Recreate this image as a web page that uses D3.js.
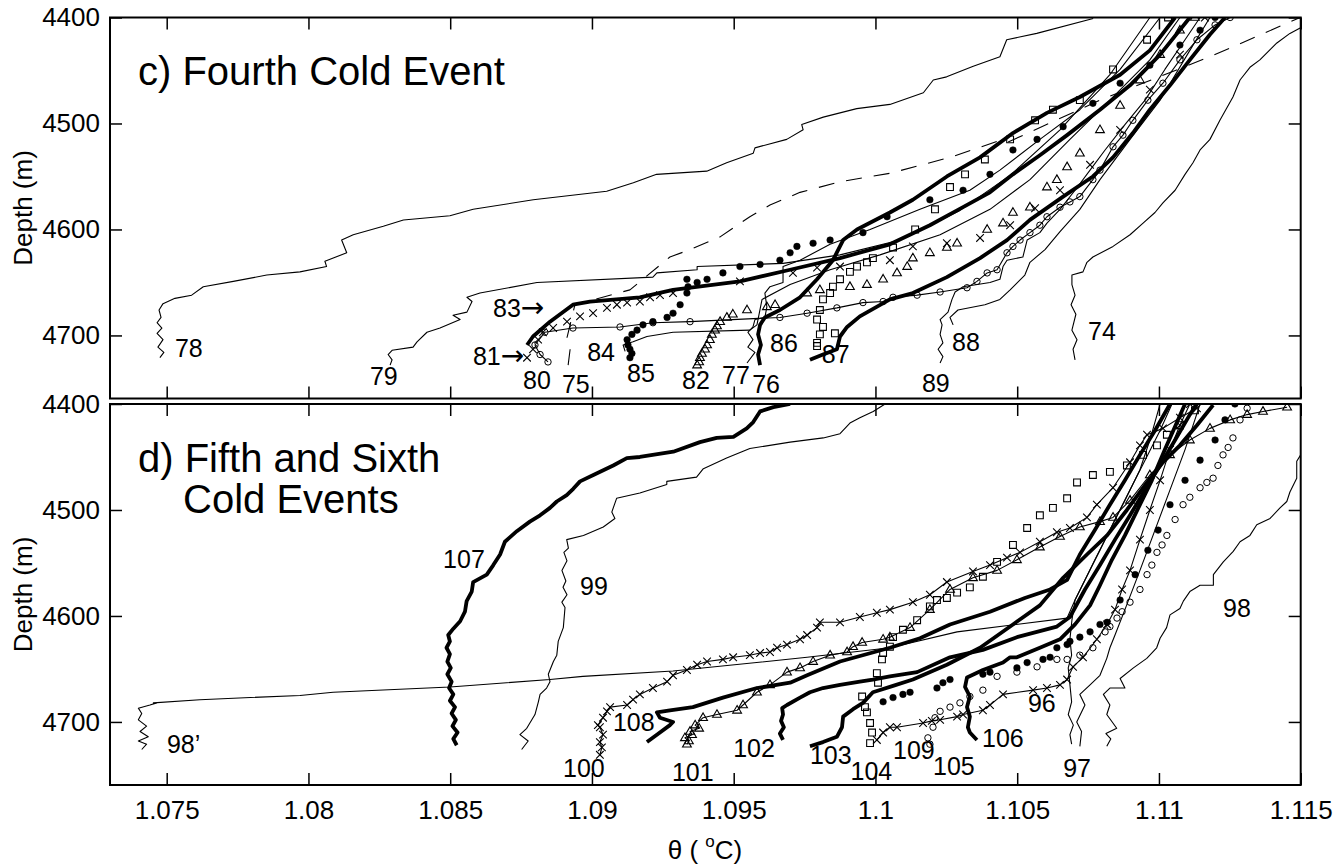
<!DOCTYPE html>
<html>
<head>
<meta charset="utf-8">
<script src="https://cdnjs.cloudflare.com/ajax/libs/d3/7.8.5/d3.min.js"></script>
<style>
  body { margin: 0; background: #fff; }
  text { font-family: "Liberation Sans", Arial, Helvetica, sans-serif; fill: #000; }
</style>
</head>
<body>
<svg id="chart" width="1339" height="866"></svg>
<script>
// tick labels
const thetaTicks = [1.075, 1.08, 1.085, 1.09, 1.095, 1.1, 1.105, 1.11, 1.115];
const depthTicks = [4400, 4500, 4600, 4700];

// ---- panel c) profiles, [theta, depth] ----
const c78 = [[1.07476,4721],[1.07490,4716],[1.07469,4711],[1.07487,4704],[1.07466,4698],[1.07483,4693],[1.07466,4688],[1.07480,4683],[1.07473,4676],[1.07487,4670],[1.07529,4665],[1.07588,4662],[1.07629,4654],[1.07735,4649],[1.07853,4643],[1.07970,4640],[1.08064,4635],[1.08058,4630],[1.08135,4622],[1.08117,4610],[1.08158,4605],[1.08264,4597],[1.08335,4591],[1.08499,4587],[1.08581,4581],[1.08793,4572],[1.09052,4564],[1.09146,4556],[1.09228,4548],[1.09405,4545],[1.09475,4537],[1.09569,4528],[1.09575,4523],[1.09687,4515],[1.09745,4506],[1.09740,4501],[1.09816,4494],[1.09934,4486],[1.10051,4482],[1.10169,4471],[1.10204,4459],[1.10251,4456],[1.10345,4446],[1.10439,4437],[1.10463,4421],[1.10569,4415],[1.10768,4401]];
const c79 = [[1.08288,4728],[1.08295,4723],[1.08281,4718],[1.08295,4714],[1.08369,4711],[1.08383,4706],[1.08418,4697],[1.08464,4693],[1.08535,4685],[1.08510,4681],[1.08559,4678],[1.08577,4668],[1.08559,4664],[1.08605,4660],[1.08806,4650],[1.09215,4645],[1.09229,4641],[1.09371,4638],[1.09371,4635],[1.09674,4632],[1.09875,4624],[1.10087,4610],[1.10298,4582],[1.10475,4549],[1.10651,4506],[1.10827,4454],[1.10968,4400]];
const c75 = [[1.08916,4728],[1.08923,4713],[1.08912,4702],[1.08940,4671],[1.09134,4657],[1.09275,4626],[1.09346,4619],[1.09452,4607],[1.09557,4588],[1.09628,4577],[1.09734,4565],[1.09875,4555],[1.10051,4547],[1.10263,4532],[1.10439,4516],[1.10464,4518],[1.10792,4478],[1.11180,4437],[1.11498,4400]];
const c80 = [[1.08845,4725],[1.08817,4718],[1.08799,4709],[1.08834,4697],[1.08933,4693],[1.09099,4692],[1.09215,4688],[1.09346,4687],[1.09663,4683],[1.09759,4679],[1.09864,4674],[1.09956,4669],[1.10027,4668],[1.10062,4664],[1.10147,4662],[1.10228,4659],[1.10323,4655],[1.10358,4649],[1.10394,4641],[1.10429,4638],[1.10464,4622],[1.10485,4616],[1.10510,4610],[1.10545,4603],[1.10580,4596],[1.10605,4588],[1.10651,4579],[1.10686,4574],[1.10721,4569],[1.10767,4553],[1.10792,4544],[1.10838,4522],[1.10873,4511],[1.10908,4497],[1.10961,4478],[1.11014,4462],[1.11074,4440],[1.11134,4421],[1.11198,4407],[1.11251,4400]];
const c81 = [[1.08771,4721],[1.08792,4713],[1.08810,4704],[1.08827,4697],[1.08863,4693],[1.08912,4687],[1.08958,4682],[1.09004,4679],[1.09053,4674],[1.09088,4671],[1.09124,4669],[1.09169,4668],[1.09205,4664],[1.09240,4662],[1.09286,4660],[1.09522,4649],[1.09709,4641],[1.09794,4636],[1.09875,4635],[1.10051,4629],[1.10132,4616],[1.10252,4613],[1.10369,4608],[1.10475,4596],[1.10563,4580],[1.10651,4563],[1.10757,4539],[1.10863,4506],[1.10968,4468],[1.11074,4435],[1.11162,4400]];
const c83 = [[1.08771,4709],[1.08792,4701],[1.08852,4687],[1.08933,4671],[1.08993,4668],[1.09169,4664],[1.09286,4657],[1.09522,4649],[1.09699,4638],[1.09875,4627],[1.10051,4614],[1.10192,4596],[1.10309,4579],[1.10404,4565],[1.10485,4548],[1.10580,4530],[1.10676,4511],[1.10792,4487],[1.10898,4464],[1.11004,4435],[1.11109,4400]];
const c84 = [[1.09117,4715],[1.09110,4709],[1.09145,4706],[1.09194,4701],[1.09286,4697],[1.09557,4695],[1.09582,4690],[1.09600,4666],[1.09699,4652],[1.09840,4638],[1.10016,4624],[1.10228,4605],[1.10404,4581],[1.10545,4553],[1.10686,4515],[1.10827,4478],[1.10968,4440],[1.11074,4400]];
const c85 = [[1.09134,4721],[1.09141,4717],[1.09134,4713],[1.09127,4709],[1.09124,4704],[1.09141,4699],[1.09159,4695],[1.09180,4690],[1.09215,4687],[1.09265,4683],[1.09286,4679],[1.09311,4671],[1.09335,4660],[1.09339,4654],[1.09335,4647],[1.09371,4650],[1.09406,4647],[1.09462,4641],[1.09522,4635],[1.09593,4633],[1.09663,4629],[1.09699,4622],[1.09723,4616],[1.09780,4613],[1.09840,4610],[1.09956,4603],[1.10041,4588],[1.10192,4572],[1.10309,4563],[1.10404,4548],[1.10485,4525],[1.10570,4515],[1.10662,4503],[1.10767,4481],[1.10863,4462],[1.10968,4445],[1.11074,4426],[1.11145,4412],[1.11198,4400]];
const c82 = [[1.09371,4728],[1.09378,4725],[1.09381,4721],[1.09388,4717],[1.09399,4713],[1.09406,4709],[1.09416,4704],[1.09423,4699],[1.09434,4695],[1.09441,4691],[1.09452,4687],[1.09476,4683],[1.09497,4680],[1.09547,4676],[1.09617,4673],[1.09646,4671],[1.09759,4660],[1.09804,4657],[1.09910,4654],[1.09970,4652],[1.10027,4647],[1.10076,4641],[1.10112,4635],[1.10132,4627],[1.10192,4622],[1.10252,4617],[1.10288,4613],[1.10394,4600],[1.10450,4594],[1.10485,4584],[1.10545,4579],[1.10605,4560],[1.10640,4553],[1.10676,4541],[1.10721,4528],[1.10792,4506],[1.10863,4483],[1.10933,4459],[1.11004,4435],[1.11074,4412],[1.11127,4400]];
const c77 = [[1.09547,4726],[1.09575,4716],[1.09550,4711],[1.09568,4704],[1.09550,4697],[1.09568,4692],[1.09575,4685],[1.09610,4683],[1.09617,4673],[1.09610,4660],[1.09628,4654],[1.09674,4650],[1.09674,4635],[1.09734,4629],[1.09840,4614],[1.09981,4600],[1.10157,4581],[1.10333,4563],[1.10439,4544],[1.10580,4515],[1.10721,4487],[1.10863,4449],[1.11004,4400]];
const c76 = [[1.09593,4728],[1.09586,4718],[1.09596,4709],[1.09586,4699],[1.09593,4690],[1.09610,4683],[1.09663,4676],[1.09734,4664],[1.09794,4647],[1.09850,4629],[1.09886,4610],[1.09935,4600],[1.10051,4584],[1.10132,4572],[1.10252,4550],[1.10369,4532],[1.10485,4509],[1.10605,4490],[1.10721,4475],[1.10863,4454],[1.10968,4431],[1.11057,4400]];
const c86 = [[1.09794,4710],[1.09857,4698],[1.09794,4707],[1.09804,4699],[1.09815,4692],[1.09794,4685],[1.09804,4676],[1.09815,4666],[1.09840,4660],[1.09850,4654],[1.09875,4647],[1.09910,4640],[1.09935,4635],[1.09970,4631],[1.09991,4627],[1.10062,4617],[1.10140,4600],[1.10210,4581],[1.10263,4560],[1.10316,4548],[1.10386,4534],[1.10475,4515],[1.10563,4497],[1.10626,4487],[1.10721,4478],[1.10838,4449],[1.10958,4421],[1.11032,4400]];
const c87 = [[1.09769,4723],[1.09815,4718],[1.09864,4713],[1.09875,4701],[1.09900,4692],[1.09945,4682],[1.10051,4666],[1.10132,4660],[1.10252,4645],[1.10369,4627],[1.10464,4610],[1.10545,4591],[1.10662,4569],[1.10767,4550],[1.10838,4532],[1.10908,4509],[1.10968,4487],[1.11039,4464],[1.11109,4440],[1.11180,4416],[1.11233,4400]];
const c89 = [[1.10228,4726],[1.10238,4720],[1.10221,4713],[1.10238,4707],[1.10228,4699],[1.10235,4690],[1.10228,4685],[1.10256,4678],[1.10270,4666],[1.10281,4659],[1.10309,4654],[1.10404,4650],[1.10439,4647],[1.10450,4635],[1.10464,4629],[1.10520,4626],[1.10535,4610],[1.10580,4603],[1.10605,4594],[1.10651,4581],[1.10704,4563],[1.10757,4544],[1.10810,4525],[1.10880,4501],[1.10951,4478],[1.11021,4449],[1.11092,4421],[1.11145,4400]];
const c88 = [[1.10274,4690],[1.10263,4683],[1.10291,4676],[1.10386,4671],[1.10439,4666],[1.10475,4657],[1.10527,4643],[1.10545,4631],[1.10598,4619],[1.10651,4602],[1.10721,4581],[1.10792,4553],[1.10898,4515],[1.11004,4478],[1.11109,4431],[1.11180,4400]];
const c74 = [[1.10704,4723],[1.10697,4713],[1.10711,4704],[1.10693,4695],[1.10707,4680],[1.10690,4671],[1.10704,4662],[1.10693,4652],[1.10693,4643],[1.10732,4640],[1.10746,4631],[1.10767,4626],[1.10838,4616],[1.10898,4605],[1.10944,4594],[1.10986,4584],[1.11014,4575],[1.11057,4563],[1.11092,4548],[1.11120,4537],[1.11145,4525],[1.11180,4515],[1.11215,4497],[1.11261,4475],[1.11286,4459],[1.11321,4447],[1.11356,4440],[1.11416,4424],[1.11462,4415],[1.11498,4410]];

// ---- panel d) profiles ----
const d107 = [[1.08523,4722],[1.08511,4716],[1.08526,4710],[1.08508,4704],[1.08520,4698],[1.08505,4692],[1.08517,4686],[1.08499,4680],[1.08511,4674],[1.08496,4668],[1.08505,4662],[1.08490,4655],[1.08502,4649],[1.08490,4643],[1.08499,4636],[1.08487,4630],[1.08499,4624],[1.08493,4618],[1.08511,4612],[1.08535,4605],[1.08552,4596],[1.08558,4586],[1.08576,4577],[1.08581,4568],[1.08629,4561],[1.08652,4552],[1.08676,4542],[1.08693,4530],[1.08735,4520],[1.08781,4511],[1.08817,4505],[1.08852,4498],[1.08876,4492],[1.08911,4486],[1.08934,4480],[1.08958,4473],[1.09005,4467],[1.09075,4458],[1.09123,4451],[1.09169,4450],[1.09287,4445],[1.09381,4436],[1.09440,4432],[1.09499,4431],[1.09546,4423],[1.09569,4417],[1.09593,4407],[1.09640,4403],[1.09699,4400]];
const d99 = [[1.08752,4726],[1.08775,4718],[1.08746,4712],[1.08770,4706],[1.08799,4693],[1.08811,4681],[1.08817,4674],[1.08840,4668],[1.08852,4662],[1.08846,4655],[1.08864,4643],[1.08876,4637],[1.08881,4624],[1.08899,4611],[1.08905,4592],[1.08894,4587],[1.08912,4580],[1.08898,4573],[1.08908,4567],[1.08894,4557],[1.08912,4548],[1.08901,4540],[1.08917,4536],[1.08911,4528],[1.08970,4524],[1.09040,4516],[1.09081,4508],[1.09070,4502],[1.09087,4489],[1.09169,4484],[1.09264,4476],[1.09264,4473],[1.09369,4469],[1.09393,4461],[1.09475,4451],[1.09557,4442],[1.09699,4436],[1.09816,4432],[1.09875,4428],[1.09910,4418],[1.09945,4413],[1.09992,4407],[1.10034,4400]];
const d98p = [[1.07412,4726],[1.07429,4721],[1.07400,4718],[1.07435,4714],[1.07406,4709],[1.07429,4704],[1.07400,4698],[1.07412,4692],[1.07400,4687],[1.07441,4684],[1.07465,4682],[1.07453,4682],[1.07617,4679],[1.07970,4675],[1.08087,4672],[1.08499,4667],[1.08852,4660],[1.08968,4657],[1.09286,4652],[1.09759,4639],[1.10051,4630],[1.10288,4615],[1.10676,4602],[1.10704,4585],[1.10739,4566],[1.10792,4538],[1.10845,4509],[1.10898,4481],[1.10951,4453],[1.11004,4425],[1.11046,4400]];
const d98 = [[1.10816,4723],[1.10830,4716],[1.10813,4711],[1.10851,4706],[1.10816,4693],[1.10827,4684],[1.10804,4674],[1.10827,4668],[1.10880,4668],[1.10863,4659],[1.10910,4649],[1.10957,4640],[1.10992,4630],[1.11004,4621],[1.11027,4611],[1.11039,4599],[1.11074,4593],[1.11086,4586],[1.11109,4577],[1.11145,4571],[1.11192,4571],[1.11192,4561],[1.11227,4549],[1.11262,4539],[1.11286,4530],[1.11321,4524],[1.11345,4514],[1.11392,4508],[1.11427,4498],[1.11451,4492],[1.11462,4483],[1.11486,4470],[1.11486,4454],[1.11500,4448]];
const d97 = [[1.10692,4721],[1.10686,4712],[1.10698,4703],[1.10680,4693],[1.10692,4681],[1.10686,4665],[1.10680,4649],[1.10692,4637],[1.10686,4622],[1.10693,4604],[1.10704,4585],[1.10739,4566],[1.10774,4547],[1.10827,4519],[1.10880,4491],[1.10933,4462],[1.10968,4434],[1.11004,4400]];
const d97b = [[1.10721,4723],[1.10727,4709],[1.10710,4700],[1.10739,4684],[1.10721,4674],[1.10757,4665],[1.10792,4656],[1.10816,4640],[1.10827,4630],[1.10845,4618],[1.10880,4594],[1.10933,4557],[1.10986,4519],[1.11039,4481],[1.11092,4443],[1.11145,4400]];
const d109 = [[1.10005,4717],[1.10027,4710],[1.10051,4705],[1.10076,4705],[1.10168,4701],[1.10199,4699],[1.10228,4698],[1.10288,4695],[1.10309,4693],[1.10379,4689],[1.10404,4684],[1.10450,4674],[1.10556,4670],[1.10605,4668],[1.10651,4665],[1.10676,4660],[1.10697,4648],[1.10732,4639],[1.10781,4622],[1.10817,4608],[1.10845,4594],[1.10870,4575],[1.10898,4557],[1.10933,4528],[1.10968,4500],[1.11004,4472],[1.11039,4443],[1.11074,4420],[1.11109,4400]];
const d105 = [[1.10192,4721],[1.10185,4715],[1.10203,4705],[1.10210,4696],[1.10228,4690],[1.10263,4686],[1.10298,4682],[1.10333,4676],[1.10379,4670],[1.10429,4657],[1.10499,4653],[1.10570,4648],[1.10640,4641],[1.10676,4641],[1.10721,4637],[1.10767,4630],[1.10810,4615],[1.10827,4610],[1.10852,4602],[1.10870,4596],[1.10898,4587],[1.10933,4575],[1.10958,4561],[1.10975,4552],[1.10993,4540],[1.11011,4533],[1.11028,4524],[1.11057,4509],[1.11085,4495],[1.11109,4488],[1.11145,4479],[1.11169,4474],[1.11191,4470],[1.11208,4458],[1.11226,4448],[1.11244,4441],[1.11261,4432],[1.11286,4415],[1.11311,4404]];
const d106 = [[1.10358,4717],[1.10333,4710],[1.10326,4705],[1.10333,4695],[1.10323,4686],[1.10333,4676],[1.10316,4667],[1.10323,4658],[1.10379,4651],[1.10450,4644],[1.10475,4639],[1.10499,4639],[1.10580,4630],[1.10651,4622],[1.10704,4608],[1.10757,4590],[1.10792,4571],[1.10834,4547],[1.10880,4524],[1.10933,4495],[1.10975,4472],[1.11021,4443],[1.11067,4415],[1.11092,4400]];
const d104 = [[1.09981,4720],[1.09988,4710],[1.09981,4701],[1.09970,4691],[1.09963,4686],[1.09953,4676],[1.10009,4663],[1.10005,4654],[1.10023,4641],[1.10027,4635],[1.10051,4629],[1.10062,4620],[1.10097,4613],[1.10147,4604],[1.10192,4591],[1.10217,4585],[1.10252,4583],[1.10288,4578],[1.10333,4573],[1.10379,4563],[1.10429,4549],[1.10485,4533],[1.10535,4517],[1.10580,4505],[1.10626,4498],[1.10676,4489],[1.10711,4474],[1.10767,4467],[1.10827,4464],[1.10887,4458],[1.10944,4448],[1.10993,4439],[1.11028,4429],[1.11074,4420],[1.11127,4406]];
const d103 = [[1.09769,4723],[1.09815,4719],[1.09864,4714],[1.09882,4705],[1.09886,4695],[1.09921,4688],[1.09956,4682],[1.09991,4672],[1.10062,4666],[1.10132,4660],[1.10252,4646],[1.10369,4630],[1.10485,4608],[1.10580,4590],[1.10662,4564],[1.10746,4542],[1.10817,4524],[1.10887,4500],[1.10958,4474],[1.11014,4455],[1.11074,4439],[1.11134,4420],[1.11191,4401]];
const d102 = [[1.09674,4717],[1.09663,4711],[1.09677,4705],[1.09667,4699],[1.09674,4693],[1.09671,4687],[1.09688,4684],[1.09734,4677],[1.09769,4672],[1.09815,4668],[1.09875,4665],[1.09945,4662],[1.09991,4660],[1.10051,4657],[1.10147,4653],[1.10263,4639],[1.10379,4632],[1.10499,4620],[1.10640,4610],[1.10686,4601],[1.10739,4575],[1.10792,4552],[1.10845,4528],[1.10898,4505],[1.10951,4481],[1.11004,4458],[1.11057,4434],[1.11109,4410],[1.11134,4400]];
const d108 = [[1.09194,4719],[1.09229,4712],[1.09275,4703],[1.09286,4700],[1.09240,4696],[1.09229,4691],[1.09275,4689],[1.09356,4686],[1.09462,4677],[1.09582,4668],[1.09699,4663],[1.09759,4656],[1.09875,4643],[1.10051,4630],[1.10157,4621],[1.10263,4608],[1.10404,4596],[1.10527,4583],[1.10616,4575],[1.10676,4566],[1.10721,4542],[1.10774,4519],[1.10827,4495],[1.10880,4472],[1.10933,4448],[1.10986,4425],[1.11039,4400]];
const d101 = [[1.09335,4721],[1.09342,4718],[1.09328,4715],[1.09353,4712],[1.09346,4709],[1.09378,4706],[1.09364,4703],[1.09392,4696],[1.09441,4693],[1.09512,4689],[1.09533,4684],[1.09582,4672],[1.09628,4665],[1.09688,4653],[1.09734,4649],[1.09780,4643],[1.09840,4637],[1.09900,4634],[1.09921,4629],[1.09953,4625],[1.10027,4622],[1.10051,4620],[1.10122,4611],[1.10192,4594],[1.10263,4575],[1.10344,4564],[1.10429,4557],[1.10499,4547],[1.10580,4535],[1.10651,4525],[1.10721,4516],[1.10792,4511],[1.10838,4507],[1.10898,4491],[1.10968,4467],[1.11039,4448],[1.11109,4434],[1.11180,4423],[1.11251,4415],[1.11311,4410],[1.11367,4407],[1.11452,4403]];
const d100 = [[1.09028,4731],[1.09035,4724],[1.09028,4719],[1.09039,4712],[1.09028,4705],[1.09021,4703],[1.09039,4696],[1.09053,4690],[1.09064,4686],[1.09124,4684],[1.09145,4679],[1.09169,4674],[1.09215,4668],[1.09265,4662],[1.09286,4656],[1.09335,4651],[1.09371,4646],[1.09406,4643],[1.09462,4641],[1.09498,4639],[1.09557,4637],[1.09593,4635],[1.09628,4634],[1.09653,4630],[1.09688,4627],[1.09734,4622],[1.09759,4618],[1.09794,4611],[1.09804,4606],[1.09875,4606],[1.09945,4601],[1.10005,4597],[1.10051,4594],[1.10132,4587],[1.10192,4580],[1.10252,4568],[1.10344,4558],[1.10404,4552],[1.10464,4545],[1.10510,4540],[1.10580,4530],[1.10640,4521],[1.10686,4517],[1.10746,4507],[1.10781,4495],[1.10838,4479],[1.10898,4455],[1.10933,4439],[1.10958,4429],[1.11014,4423],[1.11074,4413],[1.11134,4404]];
const d96 = [[1.10027,4681],[1.10062,4677],[1.10097,4674],[1.10122,4672],[1.10217,4668],[1.10238,4663],[1.10263,4660],[1.10379,4655],[1.10404,4653],[1.10499,4649],[1.10535,4644],[1.10591,4641],[1.10616,4639],[1.10640,4630],[1.10676,4627],[1.10686,4624],[1.10721,4620],[1.10757,4615],[1.10792,4608],[1.10817,4606],[1.10863,4585],[1.10916,4561],[1.10961,4538],[1.10997,4519],[1.11039,4495],[1.11092,4472],[1.11145,4453],[1.11198,4434],[1.11233,4415],[1.11268,4400]];

// profile numbers: [text, theta, depth]
const cLabels = [["78",1.07529,4720],["79",1.08217,4747],["83\u2192",1.08651,4683],["81\u2192",1.08580,4728],["80",1.08757,4751],["75",1.08894,4754],["84",1.08983,4724],["85",1.09124,4744],["82",1.09318,4751],["77",1.09459,4746],["76",1.09565,4754],["86",1.09628,4716],["87",1.09811,4726],["88",1.10270,4715],["89",1.10164,4753],["74",1.10750,4704]];
const dLabels = [["98\u2019",1.07501,4729],["107",1.08475,4555],["99",1.08958,4580],["108",1.09074,4709],["100",1.08898,4752],["101",1.09282,4756],["102",1.09498,4733],["103",1.09769,4740],["104",1.09912,4755],["109",1.10062,4735],["105",1.10203,4750],["106",1.10376,4724],["96",1.10538,4691],["97",1.10662,4752],["98",1.11226,4601]];

const svg = d3.select("#chart");
const x = d3.scaleLinear().domain([1.073, 1.115]).range([110, 1300.7]);
const left = 110, right = 1300.7;

const panels = [
  { id: "c", top: 17.5, bottom: 398.5, labels: cLabels, xLabels: false,
    title: [["c) Fourth Cold Event", 138, 85]],
    series: [
      {pts: c78, kind: "thin"}, {pts: c79, kind: "thin"}, {pts: c84, kind: "thin"},
      {pts: c77, kind: "thin"}, {pts: c89, kind: "thin"}, {pts: c88, kind: "thin"},
      {pts: c74, kind: "thin"}, {pts: c75, kind: "dashed"},
      {pts: c80, kind: "circleLine"}, {pts: c81, kind: "x"}, {pts: c82, kind: "tri"},
      {pts: c86, kind: "square"}, {pts: c85, kind: "dot"},
      {pts: c83, kind: "thick"}, {pts: c76, kind: "thick"}, {pts: c87, kind: "thick"}
    ] },
  { id: "d", top: 404, bottom: 785, labels: dLabels, xLabels: true,
    title: [["d) Fifth and Sixth", 138, 472], ["Cold Events", 183, 513]],
    series: [
      {pts: d98p, kind: "thin"}, {pts: d99, kind: "thin"}, {pts: d98, kind: "thin"},
      {pts: d97, kind: "thin"}, {pts: d97b, kind: "thin"},
      {pts: d100, kind: "xLine"}, {pts: d109, kind: "xLine"}, {pts: d101, kind: "triLine"},
      {pts: d105, kind: "circle"}, {pts: d104, kind: "square"}, {pts: d96, kind: "dot"},
      {pts: d107, kind: "thick"}, {pts: d106, kind: "thick"}, {pts: d103, kind: "thick"},
      {pts: d102, kind: "thick"}, {pts: d108, kind: "thick"}
    ] }
];

const shapes = {
  x: "M-3.8,-3.8L3.8,3.8M-3.8,3.8L3.8,-3.8",
  tri: "M0,-4.8L4.4,2.8L-4.4,2.8Z",
  square: "M-3.4,-3.4H3.4V3.4H-3.4Z"
};

function drawPanel(p) {
  const y = d3.scaleLinear().domain([4400, 4759.5]).range([p.top, p.bottom]);
  const g = svg.append("g");

  svg.append("clipPath").attr("id", "clip-" + p.id)
    .append("rect").attr("x", left).attr("y", p.top)
    .attr("width", right - left).attr("height", p.bottom - p.top);

  const plot = g.append("g").attr("clip-path", `url(#clip-${p.id})`);
  const line = d3.line().x(d => x(d[0])).y(d => y(d[1]));

  const order = ["thin", "dashed", "circleLine", "xLine", "triLine", "x", "tri", "square", "circle", "dot", "thick"];
  order.forEach(kind => {
    p.series.filter(s => s.kind === kind).forEach(s => {
      if (["thin", "dashed", "circleLine", "xLine", "triLine", "thick"].includes(kind)) {
        plot.append("path").attr("d", line(s.pts))
          .attr("fill", "none").attr("stroke", "#000")
          .attr("stroke-width", kind === "thick" ? 3.8 : 1.1)
          .attr("stroke-linejoin", "round")
          .attr("stroke-dasharray", kind === "dashed" ? "16,12" : null);
      }
      const mk = kind === "circleLine" ? "circle" : kind === "xLine" ? "x" : kind === "triLine" ? "tri" : kind;
      if (mk === "circle" || mk === "dot") {
        plot.selectAll(null).data(s.pts).enter().append("circle")
          .attr("cx", d => x(d[0])).attr("cy", d => y(d[1]))
          .attr("r", mk === "dot" ? 3.3 : 3.2)
          .attr("fill", mk === "dot" ? "#000" : "none")
          .attr("stroke", "#000").attr("stroke-width", mk === "dot" ? 0.5 : 1);
      } else if (shapes[mk]) {
        plot.selectAll(null).data(s.pts).enter().append("path")
          .attr("d", shapes[mk])
          .attr("transform", d => `translate(${x(d[0])},${y(d[1])})`)
          .attr("fill", "none").attr("stroke", "#000").attr("stroke-width", 1.1);
      }
    });
  });

  // axes: inward ticks on all four sides
  const styleAxis = sel => {
    sel.select(".domain").remove();
    sel.selectAll(".tick line").attr("stroke", "#000").attr("stroke-width", 1.5);
    sel.selectAll(".tick text").attr("font-size", 26).attr("fill", "#000")
      .attr("font-family", "Liberation Sans, Arial, sans-serif");
  };
  g.append("g").attr("transform", `translate(${left},0)`)
    .call(d3.axisLeft(y).tickValues(depthTicks).tickSize(-12).tickPadding(10).tickFormat(d3.format("d")))
    .call(styleAxis);
  g.append("g").attr("transform", `translate(${right},0)`)
    .call(d3.axisRight(y).tickValues(depthTicks).tickSize(-12).tickFormat(""))
    .call(styleAxis);
  g.append("g").attr("transform", `translate(0,${p.top})`)
    .call(d3.axisTop(x).tickValues(thetaTicks).tickSize(-12).tickFormat(""))
    .call(styleAxis);
  g.append("g").attr("transform", `translate(0,${p.bottom})`)
    .call(d3.axisBottom(x).tickValues(thetaTicks).tickSize(-12).tickPadding(15.5)
      .tickFormat(p.xLabels ? (d => String(+d.toFixed(3))) : ""))
    .call(styleAxis);

  g.append("rect").attr("x", left).attr("y", p.top)
    .attr("width", right - left).attr("height", p.bottom - p.top)
    .attr("fill", "none").attr("stroke", "#000").attr("stroke-width", 2);

  // profile numbers (arrow glyph taken from DejaVu for its full length)
  g.selectAll(null).data(p.labels).enter().append("text")
    .attr("x", d => x(d[1])).attr("y", d => y(d[2]))
    .attr("font-size", 25)
    .each(function (d) {
      const parts = d[0].split("\u2192");
      const t = d3.select(this);
      t.append("tspan").text(parts[0]);
      if (parts.length > 1) {
        t.append("tspan").attr("font-family", "DejaVu Sans").attr("font-size", 28).text("\u2192");
      }
    });

  p.title.forEach(t => {
    g.append("text").attr("x", t[1]).attr("y", t[2]).attr("font-size", 40).text(t[0]);
  });

  g.append("text")
    .attr("transform", `translate(22.5,${(p.top + p.bottom) / 2}) rotate(-90)`)
    .attr("text-anchor", "middle").attr("dominant-baseline", "central")
    .attr("font-size", 26).text("Depth (m)");
}

panels.forEach(drawPanel);

const xl = svg.append("text").attr("x", 705).attr("y", 859)
  .attr("text-anchor", "middle").attr("font-size", 26);
xl.append("tspan").text("\u03b8 ( ");
xl.append("tspan").attr("font-size", 17).attr("dy", -12).text("o");
xl.append("tspan").attr("dy", 12).text("C)");
</script>
</body>
</html>
